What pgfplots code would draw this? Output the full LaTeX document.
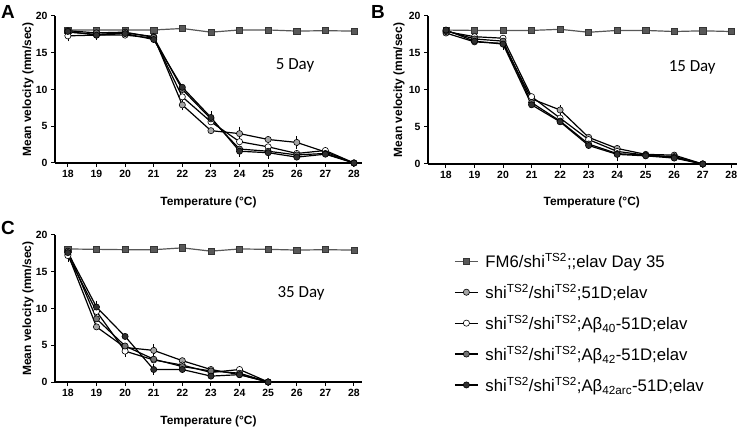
\documentclass[border=0pt]{standalone}
\usepackage{fontspec}
\setmainfont{Liberation Sans}
\newfontfamily\calfont{Carlito}
\usepackage{pgfplots}
\pgfplotsset{compat=1.18}

\definecolor{fmgray}{RGB}{88,88,88}
\definecolor{lgray}{RGB}{165,165,165}
\definecolor{mgray}{RGB}{115,115,115}
\definecolor{dgray}{RGB}{48,48,48}

\pgfplotsset{
  panel/.style={scale only axis, axis lines*=left, clip=false,
    xmin=17.55, xmax=28.28, ymin=0, ymax=20,
    xtick={18,...,28}, ytick={0,5,...,20},
    tick align=outside, major tick length=4bp,
    axis line style={line width=1.3bp}, tick style={line width=1bp, black},
    tick label style={font=\bfseries\fontsize{10.5}{12}\selectfont},
    /pgf/number format/assume math mode=true,
    label style={font=\bfseries\fontsize{12}{14}\selectfont},
    xlabel={Temperature (°C)}, ylabel={Mean velocity (mm/sec)},
    x label style={at={(axis description cs:0.5,-0.265)}, anchor=center},
    y label style={at={(axis description cs:-0.088,0.5)}, anchor=center}},
  fm/.style={fmgray, line width=1.2bp, mark=square*, mark size=3.1bp,
    mark options={fill=fmgray, draw=fmgray!60!black, line width=0.6bp}},
  dot/.style={black, line width=1.2bp, mark=*, mark size=3.1bp,
    mark options={fill=#1, draw=black, line width=0.6bp}},
  errs/.style={black, line width=0.7bp, only marks, mark=none, forget plot,
    error bars/.cd, y dir=both, y explicit, error mark options={mark size=2.5bp, line width=0.7bp}},
}

\begin{document}
\begin{tikzpicture}
\useasboundingbox (0,0) rectangle (747bp,431bp);

% panel A: 5 day
\begin{axis}[panel, at={(55bp,268bp)}, anchor=south west, width=307bp, height=147bp]
\addplot[errs] coordinates {(18,17.3) +- (0,0.4) (19,17.4) +- (0,0.3) (22,7.9) +- (0,0.4) (23,6.2) +- (0,0.5) (24,4.0) +- (0,0.6) (25,1.4) +- (0,0.5) (26,2.8) +- (0,0.5) (24,1.6) +- (0,0.4)};
\addplot[fm] coordinates {(18,18.1) (19,18.1) (20,18.1) (21,18.1) (22,18.3) (23,17.8) (24,18.1) (25,18.1) (26,17.95) (27,18.0) (28,17.95)};
\addplot[dot=lgray] coordinates {(18,17.8) (19,17.5) (20,17.7) (21,17.2) (22,7.9) (23,4.4) (24,4.0) (25,3.2) (26,2.8) (27,1.5) (28,0)};
\addplot[dot=white] coordinates {(18,17.3) (19,17.4) (20,17.4) (21,17.0) (22,9.0) (23,5.6) (24,2.9) (25,2.2) (26,1.3) (27,1.7) (28,0)};
\addplot[dot=mgray] coordinates {(18,18.0) (19,17.7) (20,17.8) (21,17.1) (22,10.0) (23,6.0) (24,1.9) (25,1.6) (26,1.1) (27,1.3) (28,0)};
\addplot[dot=dgray] coordinates {(18,17.9) (19,17.4) (20,17.6) (21,16.8) (22,10.3) (23,6.2) (24,1.6) (25,1.4) (26,0.8) (27,1.2) (28,0)};
\node[font=\calfont\fontsize{17}{20}\selectfont] at (axis cs:25.94,13.3) {5 Day};
\end{axis}

% panel B: 15 day
\begin{axis}[panel, at={(428bp,267bp)}, anchor=south west, width=309bp, height=148bp,
  xmin=17.37, xmax=28.2,
  x label style={at={(axis description cs:0.53,-0.26)}},
  y label style={at={(axis description cs:-0.094,0.5)}}]
\addplot[errs] coordinates {(20,16.2) +- (0,0.4) (24,1.3) +- (0,0.6) (22,7.3) +- (0,0.3)};
\addplot[fm] coordinates {(18,18.1) (19,18.05) (20,18.05) (21,18.05) (22,18.2) (23,17.8) (24,18.05) (25,18.05) (26,17.9) (27,18.0) (28,17.9)};
\addplot[dot=lgray] coordinates {(18,17.7) (19,16.5) (20,16.3) (21,8.8) (22,7.3) (23,3.6) (24,2.1) (25,1.3) (26,1.2) (27,0)};
\addplot[dot=white] coordinates {(18,17.9) (19,17.2) (20,17.0) (21,9.1) (22,6.2) (23,3.3) (24,1.7) (25,1.2) (26,1.0) (27,0)};
\addplot[dot=mgray] coordinates {(18,18.0) (19,16.9) (20,16.6) (21,8.3) (22,5.8) (23,2.7) (24,1.4) (25,1.2) (26,0.9) (27,0)};
\addplot[dot=dgray] coordinates {(18,18.1) (19,16.6) (20,16.2) (21,8.0) (22,5.7) (23,2.5) (24,1.3) (25,1.1) (26,0.8) (27,0)};
\node[font=\calfont\fontsize{17}{20}\selectfont] at (axis cs:26.63,13.0) {15 Day};
\end{axis}

% panel C: 35 day, with the legend
\begin{axis}[panel, at={(55bp,49bp)}, anchor=south west, width=307bp, height=147bp,
  legend style={at={(axis description cs:1.30,0.89)}, anchor=north west, draw=none, fill=none,
    font=\fontsize{16.8}{19}\selectfont, row sep=11bp, inner sep=0pt},
  legend cell align=left,
  legend image code/.code={\draw[mark repeat=2, mark phase=2] plot coordinates {(0bp,0bp) (11.5bp,0bp) (23bp,0bp)};
    \path (28bp,0bp);}]
\addplot[errs] coordinates {(18,17.2) +- (0,0.5) (19,10.2) +- (0,0.5) (20,4.2) +- (0,0.4) (21,4.3) +- (0,0.5) (21,1.7) +- (0,0.4)};
\addplot[fm] coordinates {(18,18.1) (19,18.05) (20,18.0) (21,18.0) (22,18.25) (23,17.8) (24,18.1) (25,18.05) (26,17.95) (27,18.0) (28,17.95)};
\addlegendentry{FM6/shi\textsuperscript{TS2};;elav Day 35}
\addplot[dot=lgray] coordinates {(18,17.4) (19,7.5) (20,4.7) (21,4.3) (22,2.9) (23,1.7) (24,1.0) (25,0)};
\addlegendentry{shi\textsuperscript{TS2}/shi\textsuperscript{TS2};51D;elav}
\addplot[dot=white] coordinates {(18,17.2) (19,9.6) (20,4.2) (21,3.0) (22,2.3) (23,1.3) (24,1.7) (25,0)};
\addlegendentry{shi\textsuperscript{TS2}/shi\textsuperscript{TS2};Aβ\textsubscript{40}-51D;elav}
\addplot[dot=mgray] coordinates {(18,17.8) (19,8.6) (20,4.9) (21,3.1) (22,2.1) (23,1.5) (24,1.2) (25,0)};
\addlegendentry{shi\textsuperscript{TS2}/shi\textsuperscript{TS2};Aβ\textsubscript{42}-51D;elav}
\addplot[dot=dgray] coordinates {(18,17.6) (19,10.2) (20,6.2) (21,1.7) (22,1.7) (23,0.8) (24,1.0) (25,0)};
\addlegendentry{shi\textsuperscript{TS2}/shi\textsuperscript{TS2};Aβ\textsubscript{42arc}-51D;elav}
\node[font=\calfont\fontsize{17}{20}\selectfont] at (axis cs:26.15,12.1) {35 Day};
\end{axis}

\node[font=\bfseries\fontsize{19}{19}\selectfont] at (8bp,419bp) {A};
\node[font=\bfseries\fontsize{19}{19}\selectfont] at (378bp,419bp) {B};
\node[font=\bfseries\fontsize{19}{19}\selectfont] at (8bp,203bp) {C};
\end{tikzpicture}
\end{document}
